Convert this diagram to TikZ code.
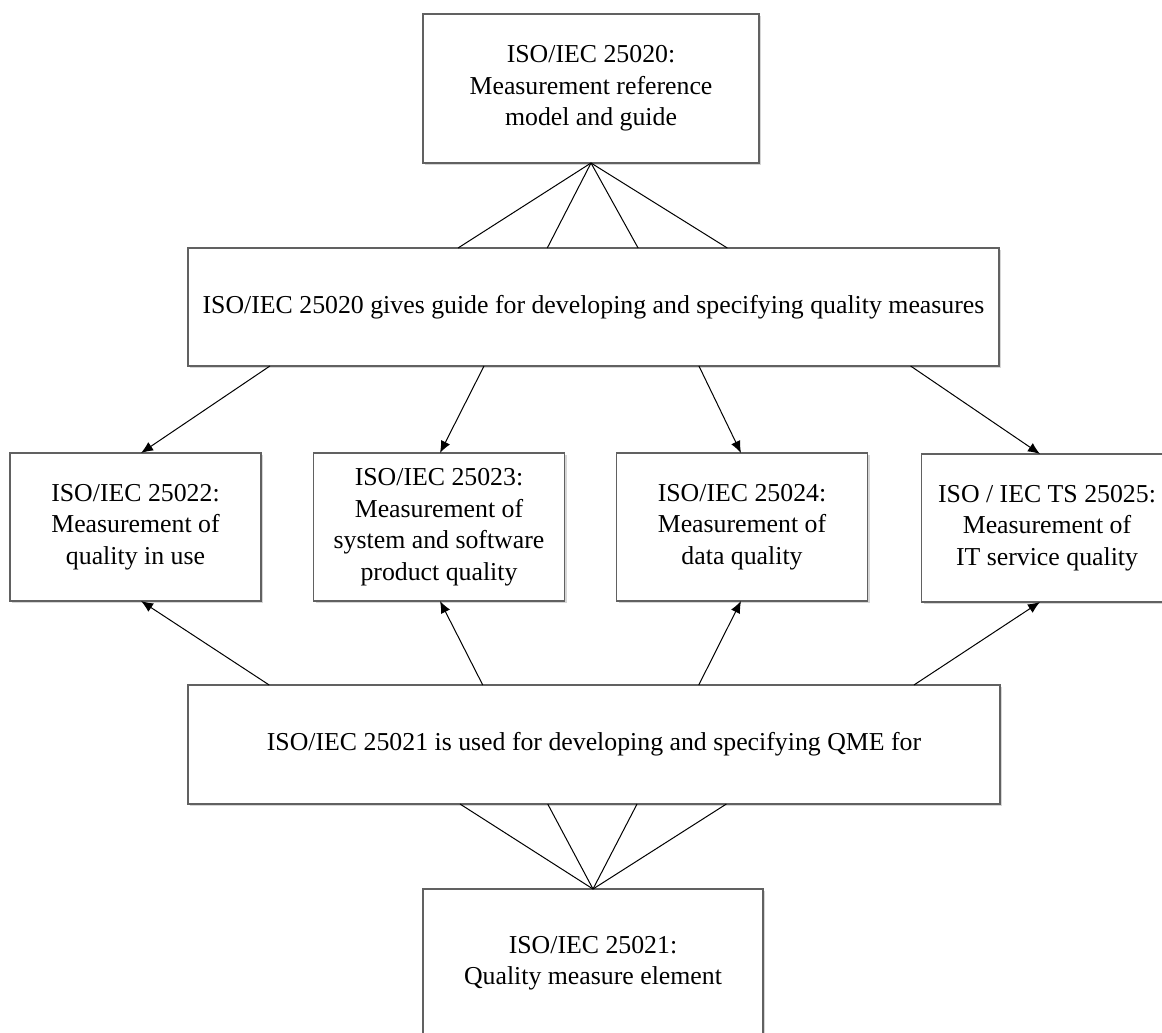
\documentclass[tikz,border=0pt]{standalone}
\usepackage{fontspec}
\setmainfont{Liberation Serif}
\usetikzlibrary{arrows.meta,calc,shadows}

\tikzset{
  box/.style={draw=black!62, line width=0.9pt, fill=white, inner sep=0pt, outer sep=0pt,
    align=center, font=\fontsize{19.35pt}{23.7pt}\selectfont,
    drop shadow={shadow xshift=1.6pt, shadow yshift=-1.6pt, fill=black!16, opacity=1}},
  link/.style={draw=black, line width=0.75pt},
  arrow/.style={link, -{Latex[length=9pt,width=7.5pt]}}
}

\begin{document}
\begin{tikzpicture}[x=0.75pt, y=-0.75pt]
  \useasboundingbox (0,0) rectangle (1162,1032);

  % boxes
  \node[box, minimum width=252pt, minimum height=111.75pt] (ref) at (591,88.5)
    {ISO/IEC 25020:\\Measurement reference\\model and guide};
  \node[box, minimum width=608.25pt, minimum height=88.5pt] (guide) at (593.5,307)
    {ISO/IEC 25020 gives guide for developing and specifying quality measures};

  \node[box, minimum width=188.25pt, minimum height=111pt] (m22) at (135.5,527)
    {ISO/IEC 25022:\\Measurement of\\quality in use};
  \node[box, minimum width=188.25pt, minimum height=111pt] (m23) at (439,527)
    {ISO/IEC 25023:\\Measurement of\\system and software\\product quality};
  \node[box, minimum width=188.25pt, minimum height=111pt] (m24) at (742,527)
    {ISO/IEC 25024:\\Measurement of\\data quality};
  \node[box, minimum width=188.25pt, minimum height=111pt] (m25) at (1047,528)
    {ISO / IEC TS 25025:\\Measurement of\\IT service quality};

  \node[box, minimum width=609pt, minimum height=89.25pt] (qme) at (594,744.5)
    {ISO/IEC 25021 is used for developing and specifying QME for};
  \node[box, minimum width=255pt, minimum height=111pt] (elem) at (593,963)
    {ISO/IEC 25021:\\Quality measure element};

  % fan from the reference model into the guide box
  \foreach \f in {0.333,0.443,0.555,0.665}
    \draw[link] ($(ref.south west)!0.5!(ref.south east)$) -- ($(guide.north west)!\f!(guide.north east)$);

  % guide box to the four measurement boxes
  \draw[arrow] ($(guide.south west)!0.101!(guide.south east)$) -- ($(m22.north west)!0.522!(m22.north east)$);
  \draw[arrow] ($(guide.south west)!0.365!(guide.south east)$) -- ($(m23.north west)!0.504!(m23.north east)$);
  \draw[arrow] ($(guide.south west)!0.630!(guide.south east)$) -- ($(m24.north west)!0.496!(m24.north east)$);
  \draw[arrow] ($(guide.south west)!0.891!(guide.south east)$) -- ($(m25.north west)!0.472!(m25.north east)$);

  % QME box to the four measurement boxes
  \draw[arrow] ($(qme.north west)!0.100!(qme.north east)$) -- ($(m22.south west)!0.522!(m22.south east)$);
  \draw[arrow] ($(qme.north west)!0.363!(qme.north east)$) -- ($(m23.south west)!0.504!(m23.south east)$);
  \draw[arrow] ($(qme.north west)!0.629!(qme.north east)$) -- ($(m24.south west)!0.496!(m24.south east)$);
  \draw[arrow] ($(qme.north west)!0.894!(qme.north east)$) -- ($(m25.south west)!0.472!(m25.south east)$);

  % fan from the quality measure element into the QME box
  \foreach \f in {0.335,0.443,0.553,0.663}
    \draw[link] (elem.north) -- ($(qme.south west)!\f!(qme.south east)$);
\end{tikzpicture}
\end{document}
